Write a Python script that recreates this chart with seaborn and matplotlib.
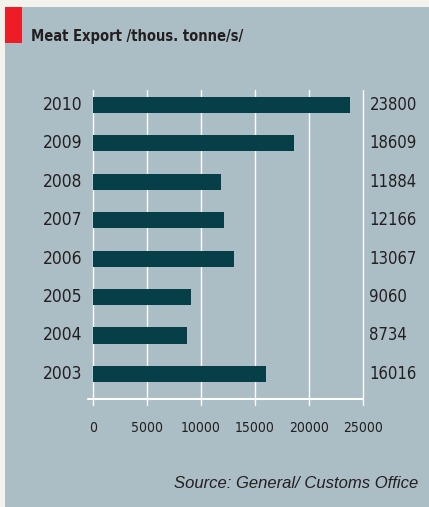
import matplotlib
matplotlib.use("Agg")
import matplotlib.pyplot as plt
import seaborn as sns
import pandas as pd
from matplotlib.patches import Rectangle

years = ["2010", "2009", "2008", "2007", "2006", "2005", "2004", "2003"]
values = [23800, 18609, 11884, 12166, 13067, 9060, 8734, 16016]
value_labels = ["23800", "18609", "11884", "12166", "13067", "9060", "8734", "16016"]
xticks = [0, 5000, 10000, 15000, 20000, 25000]

sns.set_style("white")
plt.rcParams["font.family"] = ["Liberation Sans", "DejaVu Sans"]
NARROW = dict(family="DejaVu Sans", stretch="condensed")

df = pd.DataFrame({"year": years, "value": values})

fig = plt.figure(figsize=(4.29, 5.07), dpi=100)
fig.patch.set_facecolor("#f3f3ee")
W, H = 429, 507
fig.patches.append(Rectangle((5 / W, 0), 1 - 5 / W, 1 - 7 / H, transform=fig.transFigure,
                             facecolor="#abbdc5", edgecolor="none", zorder=0))
fig.patches.append(Rectangle((5 / W, 1 - 43 / H), 17 / W, 36 / H, transform=fig.transFigure,
                             facecolor="#ee1c25", edgecolor="none", zorder=1))

ax = fig.add_axes([93 / W, 1 - 405 / H, 270 / W, 315 / H])
ax.set_zorder(3)
ax.set_facecolor("none")
sns.barplot(data=df, x="value", y="year", orient="h", color="#073f49", width=0.42,
            saturation=1, ax=ax, zorder=3, edgecolor="none", linewidth=0)
ax.set_xlim(0, 25000)
ax.set_ylim(7.81, -0.39)
for s in ax.spines.values():
    s.set_visible(False)
for t in xticks:
    ax.axvline(t, color="white", lw=1.0, zorder=1, clip_on=False)
ax.plot([-500, 25000], [7.65, 7.65], color="white", lw=1.5, clip_on=False, zorder=2)

ax.set_xticks([])
ax.set_yticks([])
ax.set_xlabel("")
ax.set_ylabel("")

for i, (y, lab) in enumerate(zip(years, value_labels)):
    ax.text(-1000, i, y, ha="right", va="center", fontsize=12.5, color="#231f20", **NARROW)
    ax.text(25600, i, lab, ha="left", va="center", fontsize=12, color="#231f20", **NARROW)

for t in xticks:
    fig.text((93 + t / 25000 * 270) / W, 1 - 428 / H, str(t), ha="center", va="center",
             fontsize=10, color="#231f20", **NARROW)

fig.text(31 / W, 1 - 36 / H, "Meat Export /thous. tonne/s/", ha="left", va="center",
         fontsize=10.5, fontweight="bold", color="#231f20", **NARROW)
fig.text(418 / W, 1 - 483 / H, "Source: General/ Customs Office", ha="right", va="center",
         fontsize=12, style="italic", color="#231f20")

fig.savefig("out.png", dpi=100, facecolor=fig.get_facecolor())
